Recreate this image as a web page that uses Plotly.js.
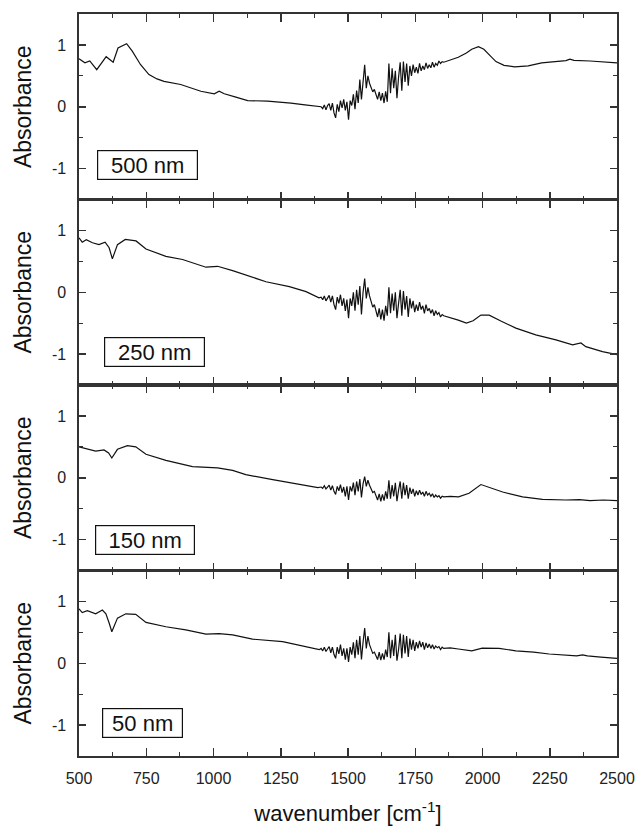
<!DOCTYPE html>
<html>
<head>
<meta charset="utf-8">
<script src="https://cdn.plot.ly/plotly-3.0.1.min.js"></script>
<style>html,body{margin:0;padding:0;background:#fff;}#chart{width:637px;height:826px;}</style>
</head>
<body>
<div id="chart"></div>
<script>
// ---- data ----
const panelLabels = ["500 nm", "250 nm", "150 nm", "50 nm"];
const xTickVals = [500, 750, 1000, 1250, 1500, 1750, 2000, 2250, 2500];
const yTickVals = [-1, 0, 1];

// wavenumbers of the densely sampled (water-vapour noise) band, shared by all panels
const wnNoise = [1400,1406,1412,1418,1424,1430,1436,1442,1448,1454,1460,1466,1472,1478,1484,1490,1496,1502,1508,1514,1520,1526,1532,1538,1544,1550,1556,1562,1568,1574,1580,1586,1592,1598,1604,1610,1616,1622,1628,1634,1640,1646,1652,1658,1664,1670,1676,1682,1688,1694,1700,1706,1712,1718,1724,1730,1736,1742,1748,1754,1760,1766,1772,1778,1784,1790,1796,1802,1808,1814,1820,1826,1832,1838,1844,1850,1856];

// 500 nm
const wn500Low = [500,510,522,540,566,601,627,645,677,698,729,760,790,816,878,953,1003,1021,1040,1080,1127,1201,1288,1340,1370,1390];
const abs500Low = [0.775,0.74,0.71,0.74,0.60,0.81,0.72,0.95,1.02,0.90,0.68,0.52,0.45,0.41,0.36,0.25,0.21,0.25,0.21,0.16,0.10,0.09,0.06,0.03,0.015,0.0];
const abs500Noise = [0.00,-0.03,0.03,-0.05,0.02,0.05,-0.06,
  0.06,-0.10,-0.18,0.04,-0.08,0.10,-0.02,0.12,-0.06,0.08,
  -0.21,0.10,0.02,0.20,-0.04,0.26,0.06,0.44,0.12,
  0.36,0.68,0.30,0.50,0.38,0.30,0.24,0.28,
  0.18,0.12,0.24,0.10,0.22,0.06,0.25,0.08,
  0.70,0.22,0.62,0.30,0.58,0.14,0.48,0.72,0.26,
  0.73,0.40,0.70,0.34,0.66,0.50,0.68,0.55,0.64,
  0.54,0.70,0.58,0.66,0.60,0.71,0.62,0.68,0.63,
  0.72,0.64,0.70,0.67,0.74,0.70,0.73,0.72];
const wn500High = [1880,1910,1940,1960,1985,2005,2030,2050,2080,2120,2170,2220,2280,2310,2325,2340,2400,2450,2500];
const abs500High = [0.76,0.80,0.87,0.93,0.97,0.93,0.82,0.73,0.67,0.645,0.66,0.71,0.735,0.745,0.77,0.75,0.74,0.73,0.71];

// 250 nm
const wn250Low = [500,512,527,550,574,597,612,624,643,672,712,749,823,885,972,1015,1071,1133,1195,1282,1344,1392];
const abs250Low = [0.88,0.81,0.85,0.80,0.77,0.81,0.72,0.54,0.77,0.855,0.83,0.70,0.58,0.53,0.405,0.42,0.35,0.255,0.17,0.09,0.01,-0.09];
const abs250Noise = [-0.08,-0.12,-0.06,-0.14,-0.09,-0.05,-0.16,
  -0.06,-0.20,-0.28,-0.08,-0.18,-0.04,-0.22,-0.10,-0.30,-0.12,
  -0.42,-0.10,-0.22,0.00,-0.30,0.04,-0.20,0.10,-0.36,
  0.00,0.22,-0.10,0.08,-0.06,-0.16,-0.24,-0.20,
  -0.32,-0.40,-0.26,-0.44,-0.28,-0.46,-0.22,-0.38,
  0.08,-0.34,-0.02,-0.30,0.00,-0.42,-0.18,0.04,-0.38,
  0.02,-0.28,-0.06,-0.40,-0.10,-0.26,-0.14,-0.32,-0.20,
  -0.30,-0.16,-0.28,-0.22,-0.34,-0.20,-0.30,-0.26,-0.34,
  -0.28,-0.38,-0.30,-0.36,-0.33,-0.40,-0.36,-0.38];
const wn250High = [1880,1910,1940,1965,1994,2025,2070,2124,2198,2273,2335,2350,2366,2384,2446,2500];
const abs250High = [-0.41,-0.45,-0.50,-0.46,-0.37,-0.37,-0.47,-0.58,-0.69,-0.77,-0.85,-0.84,-0.82,-0.88,-0.96,-1.01];

// 150 nm
const wn150Low = [500,530,562,593,610,622,643,680,711,749,823,922,1015,1071,1120,1220,1319,1388];
const abs150Low = [0.50,0.47,0.43,0.45,0.40,0.32,0.46,0.52,0.50,0.38,0.28,0.18,0.16,0.12,0.05,-0.03,-0.11,-0.16];
const abs150Noise = [-0.15,-0.17,-0.13,-0.18,-0.15,-0.12,-0.20,
  -0.13,-0.22,-0.27,-0.14,-0.21,-0.11,-0.24,-0.15,-0.30,-0.14,
  -0.36,-0.14,-0.22,-0.08,-0.28,-0.06,-0.22,-0.02,-0.32,
  -0.10,0.02,-0.14,-0.04,-0.12,-0.18,-0.24,-0.22,
  -0.30,-0.36,-0.26,-0.38,-0.27,-0.37,-0.22,-0.34,
  -0.04,-0.34,-0.12,-0.30,-0.08,-0.38,-0.20,-0.06,-0.34,
  -0.08,-0.28,-0.12,-0.34,-0.16,-0.26,-0.18,-0.30,-0.21,
  -0.28,-0.20,-0.27,-0.23,-0.30,-0.22,-0.28,-0.25,-0.30,
  -0.26,-0.32,-0.28,-0.31,-0.29,-0.33,-0.30,-0.31];
const wn150High = [1880,1911,1950,1994,2030,2075,2149,2223,2310,2360,2400,2450,2500];
const abs150High = [-0.30,-0.31,-0.25,-0.11,-0.16,-0.23,-0.31,-0.35,-0.36,-0.355,-0.37,-0.36,-0.37];

// 50 nm
const wn50Low = [500,512,531,562,587,600,612,622,643,674,711,749,823,897,972,1021,1071,1145,1257,1331,1393];
const abs50Low = [0.88,0.82,0.85,0.80,0.86,0.80,0.65,0.51,0.73,0.80,0.79,0.66,0.59,0.54,0.47,0.48,0.46,0.39,0.35,0.28,0.22];
const abs50Noise = [0.24,0.20,0.26,0.19,0.23,0.27,0.17,
  0.26,0.14,0.08,0.26,0.15,0.30,0.12,0.24,0.06,0.24,
  0.02,0.26,0.14,0.34,0.08,0.38,0.14,0.44,0.06,
  0.34,0.57,0.24,0.44,0.30,0.22,0.16,0.18,
  0.12,0.06,0.18,0.05,0.16,0.06,0.22,0.10,
  0.50,0.08,0.38,0.12,0.46,0.04,0.22,0.48,0.08,
  0.46,0.16,0.44,0.10,0.40,0.22,0.38,0.20,0.34,
  0.24,0.36,0.26,0.34,0.22,0.33,0.25,0.31,0.24,
  0.30,0.23,0.28,0.25,0.27,0.22,0.26,0.24];
const wn50High = [1880,1910,1940,1960,1999,2062,2124,2190,2248,2300,2350,2372,2390,2440,2500];
const abs50High = [0.25,0.23,0.21,0.20,0.245,0.24,0.20,0.18,0.15,0.13,0.12,0.135,0.12,0.10,0.08];

// ---- drawing ----
const xs = [
  wn500Low.concat(wnNoise, wn500High),
  wn250Low.concat(wnNoise, wn250High),
  wn150Low.concat(wnNoise, wn150High),
  wn50Low.concat(wnNoise, wn50High)
];
const ys = [
  abs500Low.concat(abs500Noise, abs500High),
  abs250Low.concat(abs250Noise, abs250High),
  abs150Low.concat(abs150Noise, abs150High),
  abs50Low.concat(abs50Noise, abs50High)
];
const FONT = '"Liberation Sans", Arial, sans-serif';
const AX = '#333';

const traces = xs.map((x, i) => ({
  x: x, y: ys[i], type: 'scatter', mode: 'lines',
  line: {color: '#111', width: 1.2},
  xaxis: i === 0 ? 'x' : 'x' + (i + 1),
  yaxis: i === 0 ? 'y' : 'y' + (i + 1),
  showlegend: false, hoverinfo: 'skip'
}));

const layout = {
  width: 637, height: 826,
  margin: {l: 79, r: 20, t: 14, b: 70},
  paper_bgcolor: '#fff', plot_bgcolor: '#fff',
  font: {family: FONT, color: '#222', size: 16},
  annotations: [],
  showlegend: false
};

const domains = [[0.75, 1], [0.5, 0.75], [0.25, 0.5], [0, 0.25]];
const boxX = [755, 781, 745, 736];
const boxY = [-0.94, -0.96, -1.01, -0.97];
const boxW = [97, 97, 96, 77];

for (let i = 0; i < 4; i++) {
  const sfx = i === 0 ? '' : String(i + 1);
  const isBottom = i === 3;
  const xa = {
    anchor: 'y' + sfx, domain: [0, 1], range: [500, 2500],
    tickvals: xTickVals, ticktext: xTickVals.map(String),
    ticks: 'inside', ticklen: 8, tickwidth: 1.5, tickcolor: AX,
    minor: {ticks: 'inside', ticklen: 4, tickwidth: 1.2, tickcolor: AX, dtick: 125, tick0: 500, showgrid: false},
    showline: true, linecolor: AX, linewidth: 1.6, mirror: 'ticks',
    showgrid: false, zeroline: false,
    showticklabels: isBottom,
    tickfont: {family: FONT, size: 16, color: '#222'},
    ticklabelstandoff: 7,
    automargin: false
  };
  if (isBottom) {
    xa.title = {text: 'wavenumber [cm<sup>-1</sup>]', font: {family: FONT, size: 22, color: '#111'}, standoff: 22};
  }
  layout['xaxis' + sfx] = xa;
  layout['yaxis' + sfx] = {
    anchor: 'x' + sfx, domain: domains[i], range: [-1.5, 1.5],
    tickvals: yTickVals, ticktext: ['-1', '0', '1'],
    ticks: 'inside', ticklen: 7, tickwidth: 1.5, tickcolor: AX,
    minor: {ticks: 'inside', ticklen: 4, tickwidth: 1.2, tickcolor: AX, dtick: 0.5, tick0: 0, showgrid: false},
    showline: true, linecolor: AX, linewidth: 1.6, mirror: 'ticks',
    showgrid: false, zeroline: false,
    tickfont: {family: FONT, size: 16, color: '#222'},
    ticklabelstandoff: 8,
    title: {text: 'Absorbance', font: {family: FONT, size: 23, color: '#111'}, standoff: 14},
    automargin: false
  };
  layout.annotations.push({
    xref: 'x' + sfx, yref: 'y' + sfx, x: boxX[i], y: boxY[i],
    text: panelLabels[i], showarrow: false,
    xanchor: 'center', yanchor: 'middle',
    font: {family: FONT, size: 22, color: '#111'},
    bordercolor: '#111', borderwidth: 1.2, borderpad: 1,
    bgcolor: '#fff', width: boxW[i], height: 26, align: 'center'
  });
}

Plotly.newPlot('chart', traces, layout, {staticPlot: true, displayModeBar: false});
</script>
</body>
</html>
